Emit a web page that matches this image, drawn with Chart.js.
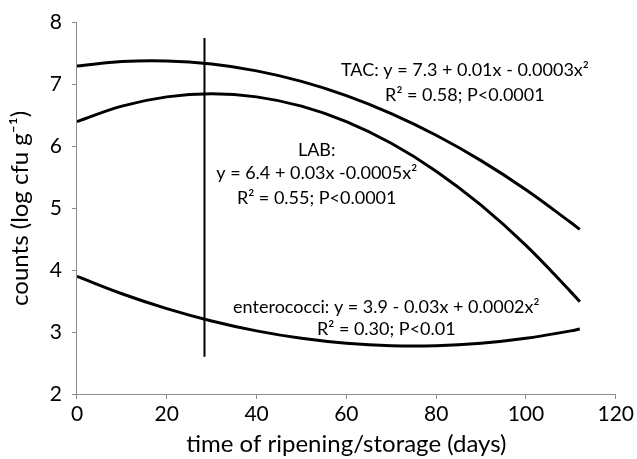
<!DOCTYPE html>
<html>
<head>
<meta charset="utf-8">
<script src="https://cdn.jsdelivr.net/npm/chart.js@4"></script>
<style>
  html, body { margin: 0; padding: 0; background: #fff; }
  #wrap { width: 637px; height: 459px; position: relative; }
</style>
</head>
<body>
<div id="wrap"><canvas id="chart"></canvas></div>
<script>
// days
const days = [0, 10, 20, 30, 40, 50, 60, 70, 80, 90, 100, 110, 112];
const tac = [7.30, 7.37, 7.38, 7.33, 7.22, 7.05, 6.82, 6.53, 6.18, 5.77, 5.30, 4.77, 4.66];
const lab = [6.40, 6.65, 6.80, 6.85, 6.80, 6.65, 6.40, 6.05, 5.60, 5.05, 4.40, 3.65, 3.49];
const entero = [3.90, 3.62, 3.38, 3.18, 3.02, 2.90, 2.82, 2.78, 2.78, 2.82, 2.90, 3.02, 3.05];
// vertical marker line
const markerDay = 28.4;
const markerRange = [7.75, 2.6];

const xTicks = [0, 20, 40, 60, 80, 100, 120];
const yTicks = [2, 3, 4, 5, 6, 7, 8];

const toPoints = (vals) => days.map((d, i) => ({ x: d, y: vals[i] }));

const curve = (label, vals) => ({
    label: label,
    data: toPoints(vals),
    borderColor: '#000',
    borderWidth: 3,
    pointRadius: 0,
    tension: 0.4,
    fill: false
});

// equation labels, placed in data coordinates
const notes = [
    { x: 86.4, y: 7.23, text: 'TAC: y = 7.3 + 0.01x - 0.0003x²' },
    { x: 86.4, y: 6.82, text: 'R² = 0.58; P<0.0001' },
    { x: 53.4, y: 5.94, text: 'LAB:' },
    { x: 53.4, y: 5.56, text: 'y = 6.4 + 0.03x -0.0005x²' },
    { x: 53.4, y: 5.17, text: 'R² = 0.55; P<0.0001' },
    { x: 68.9, y: 3.41, text: 'enterococci: y = 3.9 - 0.03x + 0.0002x²' },
    { x: 68.9, y: 3.04, text: 'R² = 0.30; P<0.01' }
];

const notePlugin = {
    id: 'notes',
    afterDatasetsDraw(chart) {
        const { ctx, scales } = chart;
        ctx.save();
        ctx.font = '18px Lato';
        ctx.fillStyle = '#000';
        ctx.textAlign = 'center';
        ctx.textBaseline = 'middle';
        notes.forEach(n => {
            ctx.fillText(n.text, scales.x.getPixelForValue(n.x), scales.y.getPixelForValue(n.y));
        });
        ctx.restore();
    }
};

const axisGrid = {
    drawOnChartArea: false,
    drawTicks: true,
    tickLength: 5,
    color: '#8c8c8c'
};

new Chart(document.getElementById('chart'), {
    type: 'scatter',
    data: {
        datasets: [
            curve('TAC', tac),
            curve('LAB', lab),
            curve('enterococci', entero),
            {
                label: 'marker',
                data: markerRange.map(v => ({ x: markerDay, y: v })),
                borderColor: '#000',
                borderWidth: 2,
                pointRadius: 0
            }
        ].map(d => Object.assign({ showLine: true }, d))
    },
    options: {
        responsive: true,
        maintainAspectRatio: false,
        animation: false,
        layout: { padding: { top: 8, right: 3, left: 6, bottom: 0 } },
        plugins: {
            legend: { display: false },
            tooltip: { enabled: false }
        },
        scales: {
            x: {
                type: 'linear',
                min: 0,
                max: 120,
                afterBuildTicks: (axis) => { axis.ticks = xTicks.map(v => ({ value: v })); },
                grid: axisGrid,
                border: { color: '#8c8c8c', width: 1 },
                ticks: { color: '#000', font: { family: 'Lato', size: 21 }, padding: 3 },
                title: {
                    display: true,
                    text: 'time of ripening/storage (days)',
                    color: '#000',
                    font: { family: 'Lato', size: 24 },
                    padding: { top: 0, bottom: 0 }
                }
            },
            y: {
                min: 2,
                max: 8,
                afterBuildTicks: (axis) => { axis.ticks = yTicks.map(v => ({ value: v })); },
                grid: axisGrid,
                border: { color: '#8c8c8c', width: 1 },
                ticks: { color: '#000', font: { family: 'Lato', size: 21 }, padding: 10 },
                title: {
                    display: true,
                    text: 'counts (log cfu g⁻¹)',
                    color: '#000',
                    font: { family: 'Lato', size: 24 },
                    padding: { top: 0, bottom: 5 }
                }
            }
        }
    },
    plugins: [notePlugin]
});
</script>
</body>
</html>
